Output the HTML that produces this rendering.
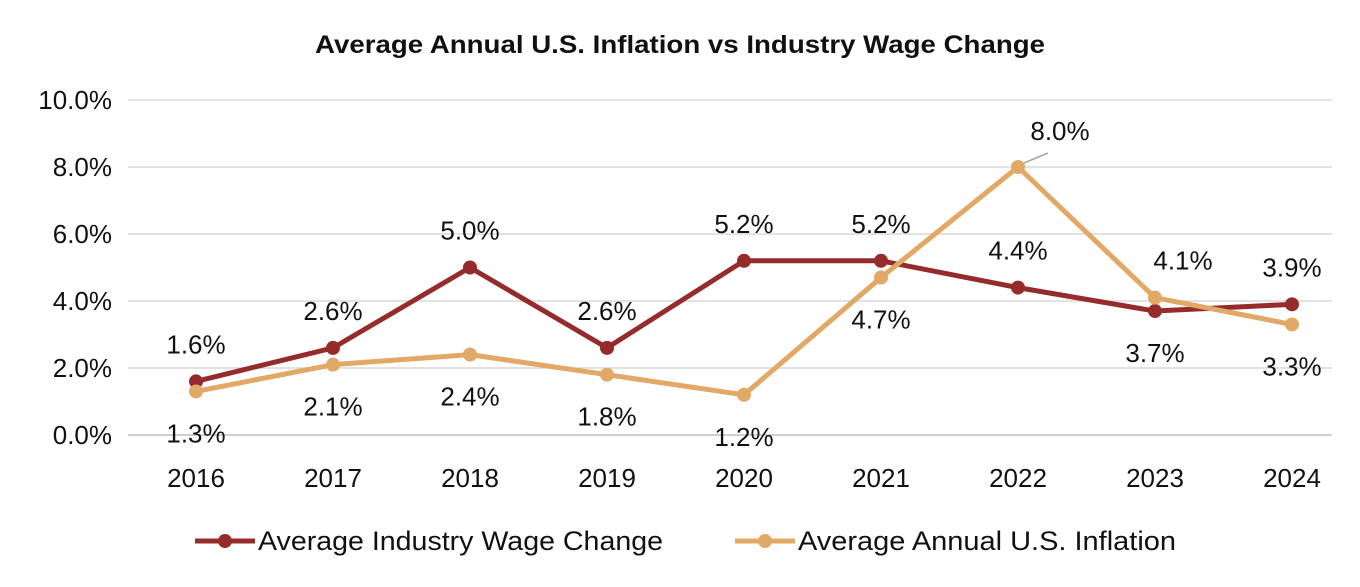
<!DOCTYPE html>
<html><head><meta charset="utf-8"><style>
body{margin:0;background:#fff;}
svg{display:block;font-family:"Liberation Sans",Calibri,sans-serif;}
</style></head><body>
<svg id="chart" width="1360" height="587" viewBox="0 0 1360 587">
<text x="315" y="53" textLength="730" lengthAdjust="spacingAndGlyphs" font-size="25" font-weight="bold" fill="#111">Average Annual U.S. Inflation vs Industry Wage Change</text>
<g id="grid"></g><g id="axes"></g><g id="lines"></g><g id="labels"></g>
<g>
<g>
<line x1="195" y1="541" x2="255" y2="541" stroke="#962b2b" stroke-width="5"/>
<circle cx="225" cy="541" r="7" fill="#962b2b"/>
<text x="258" y="550" font-size="27" textLength="405" lengthAdjust="spacingAndGlyphs" fill="#111">Average Industry Wage Change</text></g>
<g>
<line x1="735" y1="541" x2="795" y2="541" stroke="#e1a965" stroke-width="5"/>
<circle cx="765" cy="541" r="7" fill="#e1a965"/>
<text x="798" y="550" font-size="27" textLength="378" lengthAdjust="spacingAndGlyphs" fill="#111">Average Annual U.S. Inflation</text></g>
</g>
</svg>
<script>
const years=["2016","2017","2018","2019","2020","2021","2022","2023","2024"];
const wage=[1.6,2.6,5.0,2.6,5.2,5.2,4.4,3.7,3.9];
const inflation=[1.3,2.1,2.4,1.8,1.2,4.7,8.0,4.1,3.3];
const yTicks=[0,2,4,6,8,10];
const wagePos=["a","a","a","a","a","a","a","b","a"];
const inflPos=["b","b","b","b","b","b","a","a","b"];
const NS="http://www.w3.org/2000/svg";
const x=i=>196+i*137;
const y=v=>435-v*33.5;
function mk(tag,attrs,parent){const e=document.createElementNS(NS,tag);for(const k in attrs)e.setAttribute(k,attrs[k]);document.getElementById(parent).appendChild(e);return e;}
yTicks.forEach(t=>{
 const l=mk("line",{x1:128,x2:1332,y1:y(t),y2:y(t),stroke:t===0?"#bfbfbf":"#d9d9d9","stroke-width":1.5},"grid");
 
 
 const tx=mk("text",{x:112,y:y(t)+9,"text-anchor":"end","font-size":26,fill:"#111"},"axes");
 tx.textContent=t.toFixed(1)+"%";
 
 
});
years.forEach((yr,i)=>{
 const tx=mk("text",{x:x(i),y:487,"text-anchor":"middle","font-size":26,fill:"#111"},"axes");
 tx.textContent=yr;
 
 
});
function series(vals,color,name,pos){
 const p=mk("polyline",{points:vals.map((v,i)=>x(i)+","+y(v)).join(" "),fill:"none",stroke:color,"stroke-width":5,"stroke-linejoin":"round"},"lines");
 
 
 vals.forEach((v,i)=>{
  const c=mk("circle",{cx:x(i),cy:y(v),r:7,fill:color},"lines");
  
  
  const above=pos[i]==="a";
  let lx=x(i),ly=above?y(v)-28:y(v)+51;
  if(name==="inflation"&&i===6){lx=x(i)+42;ly=y(v)-27;
   const ll=mk("line",{x1:x(i)+6,y1:y(v)-4,x2:x(i)+30,y2:y(v)-14,stroke:"#a6a6a6","stroke-width":1.5},"labels");
   
   }
  if(name==="inflation"&&i===7){lx=x(i)+28;}
  const t=mk("text",{x:lx,y:ly,"text-anchor":"middle","font-size":26,fill:"#111"},"labels");
  t.textContent=v.toFixed(1)+"%";
  
  
 });
}
series(wage,"#962b2b","wage",wagePos);
series(inflation,"#e1a965","inflation",inflPos);
</script>
</body></html>
